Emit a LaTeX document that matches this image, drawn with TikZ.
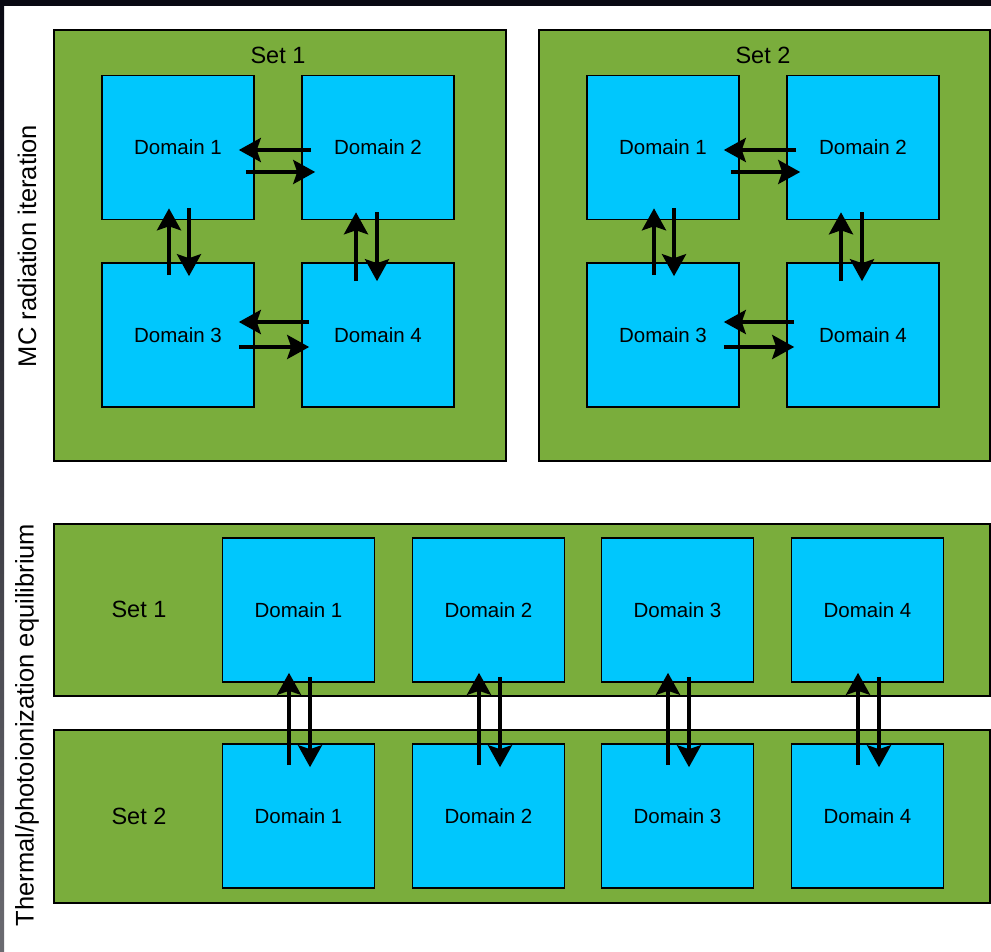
\documentclass[tikz,border=0pt]{standalone}
\usepackage{fontspec}
\setmainfont{Liberation Sans}
\usetikzlibrary{arrows.meta}
\definecolor{setgreen}{RGB}{122,173,60}
\definecolor{domblue}{RGB}{0,199,253}
\definecolor{edgedark}{RGB}{8,8,18}
\begin{document}
\begin{tikzpicture}[x=1pt,y=-1pt,
    set box/.style={draw,fill=setgreen,line width=1.6pt},
    dom node/.style={draw,fill=domblue,line width=1.6pt,minimum width=152pt,minimum height=144pt,
                     font=\fontsize{20.5}{24}\selectfont},
    set label/.style={font=\fontsize{23.5}{26}\selectfont},
    side label/.style={rotate=90,font=\fontsize{25.5}{28}\selectfont},
    msg/.style={line width=3.8pt,-{Stealth[length=22pt,width=24pt,inset=4pt]}}]
  \useasboundingbox (0,0) rectangle (991,952);
  \fill[edgedark] (0,0) rectangle (991,6);
  \shade[top color=edgedark,bottom color=edgedark!60!white] (0,0) rectangle (4,952);

  % MC radiation iteration
  \node[side label] (mc) at (27,246) {MC radiation iteration};
  \draw[set box] (54,30) rectangle (506,461);
  \draw[set box] (539,30) rectangle (990,461);
  \node[set label] (top1) at (278,55) {Set 1};
  \node[set label] (top2) at (763,55) {Set 2};

  \node[dom node] (s1d1) at (178,147.5) {Domain 1};
  \node[dom node] (s1d2) at (378,147.5) {Domain 2};
  \node[dom node] (s1d3) at (178,335) {Domain 3};
  \node[dom node] (s1d4) at (378,335) {Domain 4};
  \node[dom node] (s2d1) at (663,147.5) {Domain 1};
  \node[dom node] (s2d2) at (863,147.5) {Domain 2};
  \node[dom node] (s2d3) at (663,335) {Domain 3};
  \node[dom node] (s2d4) at (863,335) {Domain 4};

  \path[msg]%
    ([yshift=-2.5pt]s1d2.west) edge[shorten <=-10pt,shorten >=-16pt] ([yshift=-2.5pt]s1d1.east)
    ([yshift=-24.5pt]s1d1.east) edge[shorten <=-9pt,shorten >=-14pt] ([yshift=-24.5pt]s1d2.west)
    ([yshift=13pt]s1d4.west) edge[shorten <=-8pt,shorten >=-16pt] ([yshift=13pt]s1d3.east)
    ([yshift=-12pt]s1d3.east) edge[shorten <=-16pt,shorten >=-8pt] ([yshift=-12pt]s1d4.west)
    ([xshift=-9pt]s1d3.north) edge[shorten <=-13pt,shorten >=-12pt] ([xshift=-9pt]s1d1.south)
    ([xshift=11pt]s1d1.south) edge[shorten <=-12pt,shorten >=-14pt] ([xshift=11pt]s1d3.north)
    ([xshift=-22pt]s1d4.north) edge[shorten <=-19pt,shorten >=-8pt] ([xshift=-22pt]s1d2.south)
    ([xshift=-1pt]s1d2.south) edge[shorten <=-8pt,shorten >=-19pt] ([xshift=-1pt]s1d4.north);
  \path[msg]%
    ([yshift=-2.5pt]s2d2.west) edge[shorten <=-10pt,shorten >=-16pt] ([yshift=-2.5pt]s2d1.east)
    ([yshift=-24.5pt]s2d1.east) edge[shorten <=-9pt,shorten >=-14pt] ([yshift=-24.5pt]s2d2.west)
    ([yshift=13pt]s2d4.west) edge[shorten <=-8pt,shorten >=-16pt] ([yshift=13pt]s2d3.east)
    ([yshift=-12pt]s2d3.east) edge[shorten <=-16pt,shorten >=-8pt] ([yshift=-12pt]s2d4.west)
    ([xshift=-9pt]s2d3.north) edge[shorten <=-13pt,shorten >=-12pt] ([xshift=-9pt]s2d1.south)
    ([xshift=11pt]s2d1.south) edge[shorten <=-12pt,shorten >=-14pt] ([xshift=11pt]s2d3.north)
    ([xshift=-22pt]s2d4.north) edge[shorten <=-19pt,shorten >=-8pt] ([xshift=-22pt]s2d2.south)
    ([xshift=-1pt]s2d2.south) edge[shorten <=-8pt,shorten >=-19pt] ([xshift=-1pt]s2d4.north);

  % Thermal/photoionization equilibrium
  \node[side label] (eq) at (27,725) {Thermal/photoionization equilibrium};
  \draw[set box] (54,524) rectangle (990,696);
  \draw[set box] (54,730) rectangle (990,903);
  \node[set label] (row1) at (139,609) {Set 1};
  \node[set label] (row2) at (139,816) {Set 2};

  \node[dom node] (a1) at (298.5,610) {Domain 1};
  \node[dom node] (a2) at (488.5,610) {Domain 2};
  \node[dom node] (a3) at (677.5,610) {Domain 3};
  \node[dom node] (a4) at (867.5,610) {Domain 4};
  \node[dom node] (b1) at (298.5,816) {Domain 1};
  \node[dom node] (b2) at (488.5,816) {Domain 2};
  \node[dom node] (b3) at (677.5,816) {Domain 3};
  \node[dom node] (b4) at (867.5,816) {Domain 4};

  \path[msg]%
    ([xshift=-9.5pt]b1.north) edge[shorten <=-22pt,shorten >=-10pt] ([xshift=-9.5pt]a1.south)
    ([xshift=11.5pt]a1.south) edge[shorten <=-6pt,shorten >=-24pt] ([xshift=11.5pt]b1.north)
    ([xshift=-9.5pt]b2.north) edge[shorten <=-22pt,shorten >=-10pt] ([xshift=-9.5pt]a2.south)
    ([xshift=11.5pt]a2.south) edge[shorten <=-6pt,shorten >=-24pt] ([xshift=11.5pt]b2.north)
    ([xshift=-9.5pt]b3.north) edge[shorten <=-22pt,shorten >=-10pt] ([xshift=-9.5pt]a3.south)
    ([xshift=11.5pt]a3.south) edge[shorten <=-6pt,shorten >=-24pt] ([xshift=11.5pt]b3.north)
    ([xshift=-9.5pt]b4.north) edge[shorten <=-22pt,shorten >=-10pt] ([xshift=-9.5pt]a4.south)
    ([xshift=11.5pt]a4.south) edge[shorten <=-6pt,shorten >=-24pt] ([xshift=11.5pt]b4.north);
\end{tikzpicture}
\end{document}
